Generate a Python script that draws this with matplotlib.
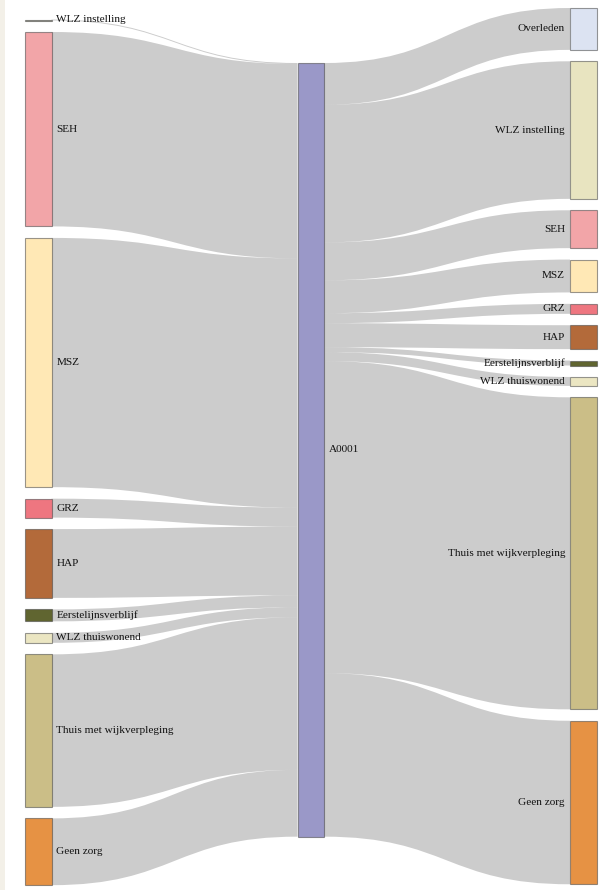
import matplotlib
matplotlib.use("Agg")
import matplotlib.pyplot as plt
from matplotlib.path import Path
from matplotlib.patches import PathPatch, Rectangle

# ---- data ----
center_name = "A0001"
left_labels = ["WLZ instelling", "SEH", "MSZ", "GRZ", "HAP", "Eerstelijnsverblijf",
               "WLZ thuiswonend", "Thuis met wijkverpleging", "Geen zorg"]
left_values = [1, 195, 250, 19, 69, 12, 10, 153, 67]
left_colors = ["#9f9b86", "#f2a5a8", "#ffe8b5", "#ee7680", "#b36a3a", "#606530",
               "#ebe6c2", "#cbbe87", "#e69244"]

right_labels = ["Overleden", "WLZ instelling", "SEH", "MSZ", "GRZ", "HAP",
                "Eerstelijnsverblijf", "WLZ thuiswonend", "Thuis met wijkverpleging", "Geen zorg"]
right_values = [42, 138, 38, 33, 10, 24, 5, 9, 313, 164]
right_colors = ["#dce3f2", "#e8e4c0", "#f2a5a8", "#ffe8b5", "#ee7680", "#b36a3a",
                "#606530", "#ebe6c2", "#cbbe87", "#e69244"]
center_color = "#9a98c8"

# ---- layout ----
W, H = 606, 890
fig = plt.figure(figsize=(W / 100, H / 100), dpi=100)
ax = fig.add_axes([0, 0, 1, 1])
ax.set_xlim(0, W)
ax.set_ylim(H, 0)
ax.axis("off")
ax.add_patch(Rectangle((0, 0), 5, H, facecolor="#f3f0e8", edgecolor="none", zorder=0))

node_w = 26.5
xl, xc, xr = 25, 297.5, 570
scale = 0.997
left_top, right_top, center_top = 19.5, 8, 63
FONT = ["Liberation Serif", "DejaVu Serif"]
fs = 8.1


def stack(values, top, gap):
    pos = []
    y = top
    for v in values:
        h = v * scale
        pos.append((y, h))
        y += h + gap
    return pos


def band(x0, y0a, y0b, x1, y1a, y1b):
    xm = (x0 + x1) / 2
    verts = [(x0, y0a), (xm, y0a), (xm, y1a), (x1, y1a),
             (x1, y1b), (xm, y1b), (xm, y0b), (x0, y0b), (x0, y0a)]
    codes = [Path.MOVETO, Path.CURVE4, Path.CURVE4, Path.CURVE4,
             Path.LINETO, Path.CURVE4, Path.CURVE4, Path.CURVE4, Path.CLOSEPOLY]
    ax.add_patch(PathPatch(Path(verts, codes), facecolor=(0, 0, 0, 0.2),
                           edgecolor="none", zorder=1))


lpos = stack(left_values, left_top, 11.5)
rpos = stack(right_values, right_top, 11.4)
ctot = max(sum(left_values), sum(right_values)) * scale

# links left -> center
cy = center_top
for (y, h) in lpos:
    band(xl + node_w, y, y + h, xc, cy, cy + h)
    cy += h
# links center -> right
cy = center_top
for (y, h) in rpos:
    band(xc + node_w, cy, cy + h, xr, y, y + h)
    cy += h

# nodes
def node(x, y, h, color):
    ax.add_patch(Rectangle((x, y), node_w, max(h, 1.2), facecolor=color,
                           edgecolor=(0.27, 0.27, 0.27, 0.55), linewidth=0.8, zorder=2))

for (y, h), c, lab in zip(lpos, left_colors, left_labels):
    node(xl, y, h, c)
    ax.text(xl + node_w + 5, y + h / 2, lab, ha="left", va="center",
            fontsize=fs, family=FONT, color="#111111", zorder=3)

node(xc, center_top, ctot, center_color)
ax.text(xc + node_w + 5, center_top + ctot / 2, center_name, ha="left", va="center",
        fontsize=fs, family=FONT, color="#111111", zorder=3)

for (y, h), c, lab in zip(rpos, right_colors, right_labels):
    node(xr, y, h, c)
    ax.text(xr - 5, y + h / 2, lab, ha="right", va="center",
            fontsize=fs, family=FONT, color="#111111", zorder=3)

fig.savefig("out.png", dpi=100, facecolor="white")
